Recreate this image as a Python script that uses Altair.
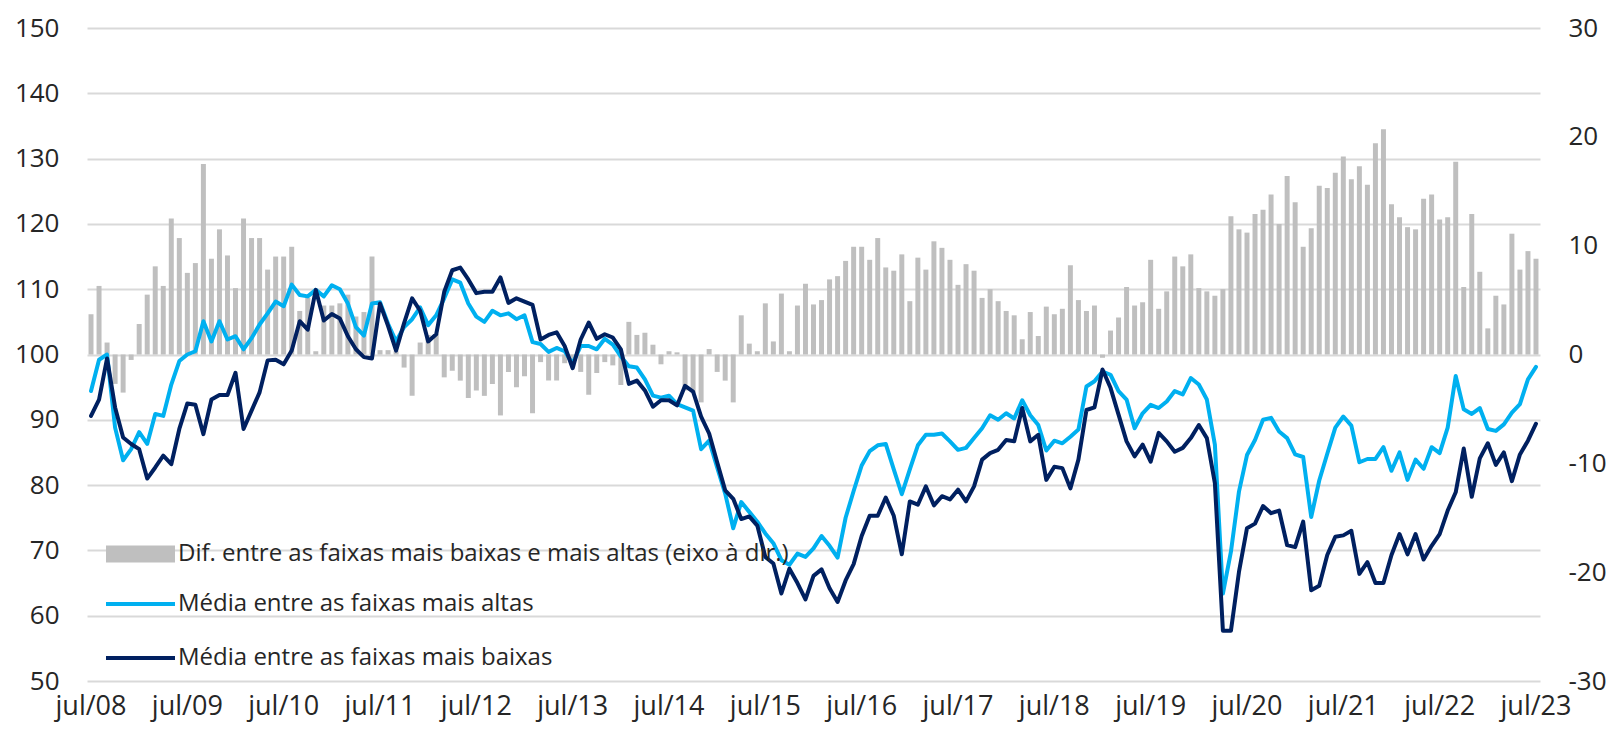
import altair as alt
import pandas as pd

# ---------------- dados ----------------
meses_pt = ["jan", "fev", "mar", "abr", "mai", "jun", "jul", "ago", "set", "out", "nov", "dez"]
categorias = []
ano, m = 2008, 6
for _ in range(181):
    categorias.append(f"{meses_pt[m]}/{ano % 100:02d}")
    m += 1
    if m == 12:
        m = 0
        ano += 1

rotulos_x = ["jul/08", "jul/09", "jul/10", "jul/11", "jul/12", "jul/13", "jul/14", "jul/15",
             "jul/16", "jul/17", "jul/18", "jul/19", "jul/20", "jul/21", "jul/22", "jul/23"]

ticks_esq = [50, 60, 70, 80, 90, 100, 110, 120, 130, 140, 150]
ticks_dir = [-30, -20, -10, 0, 10, 20, 30]

dif = [
    3.7, 6.3, 1.1, -2.7, -3.5, -0.5, 2.8, 5.5, 8.1, 6.3,
    12.5, 10.7, 7.5, 8.4, 17.5, 8.8, 11.5, 9.1, 6.1, 12.5,
    10.7, 10.7, 7.8, 9.0, 9.0, 9.9, 4.0, 5.2, 0.3, 4.5,
    4.5, 4.7, 5.5, 3.5, 3.9, 9.0, 0.4, 0.4, 0.3, -1.2,
    -3.8, 1.1, 1.8, 1.9, -2.1, -1.5, -2.4, -4.0, -3.3, -3.8,
    -2.7, -5.6, -1.6, -3.0, -2.0, -5.4, -0.7, -2.4, -2.4, -0.8,
    -1.2, -1.6, -3.7, -1.7, -0.7, -1.0, -2.8, 3.0, 1.8, 2.0,
    0.9, -0.9, 0.3, 0.2, -3.3, -3.5, -4.4, 0.5, -1.6, -2.4,
    -4.4, 3.6, 1.0, 0.3, 4.7, 1.2, 5.6, 0.3, 4.5, 6.5,
    4.6, 5.0, 6.9, 7.2, 8.6, 9.9, 9.9, 8.7, 10.7, 8.0,
    7.7, 9.2, 4.9, 8.9, 7.8, 10.4, 9.8, 8.7, 6.4, 8.3,
    7.7, 5.2, 6.0, 4.9, 4.0, 3.6, 1.4, 3.9, 1.7, 4.4,
    3.7, 4.2, 8.2, 5.0, 4.0, 4.5, -0.3, 2.2, 3.4, 6.2,
    4.5, 4.8, 8.7, 4.2, 5.8, 9.0, 8.1, 9.2, 6.1, 5.8,
    5.4, 6.0, 12.7, 11.5, 11.2, 12.9, 13.3, 14.7, 12.0, 16.4,
    14.0, 9.9, 11.6, 15.5, 15.3, 16.7, 18.2, 16.1, 17.3, 15.6,
    19.4, 20.7, 13.8, 12.6, 11.7, 11.5, 14.3, 14.7, 12.4, 12.6,
    17.7, 6.2, 12.9, 7.6, 2.4, 5.4, 4.6, 11.1, 7.8, 9.5,
    8.8,
]

altas = [
    94.4, 99.2, 100.0, 88.8, 83.8, 85.5, 88.1, 86.3, 90.9, 90.6,
    95.4, 99.0, 100.0, 100.5, 105.1, 102.0, 105.1, 102.3, 102.8, 100.8,
    102.5, 104.6, 106.3, 108.1, 107.4, 110.7, 109.1, 108.9, 109.9, 108.9,
    110.6, 110.0, 107.8, 104.2, 102.9, 107.8, 108.0, 104.7, 102.0, 104.2,
    105.4, 107.2, 104.5, 106.0, 108.6, 111.5, 111.0, 107.8, 105.8, 105.0,
    106.7, 106.0, 106.3, 105.4, 106.0, 101.9, 101.6, 100.4, 101.0, 100.5,
    98.6, 101.3, 101.3, 100.8, 102.4, 101.5, 99.7, 98.2, 98.0, 96.2,
    93.7, 93.4, 93.7, 92.4, 91.9, 91.4, 85.5, 86.8, 82.7, 78.7,
    73.4, 77.4, 75.9, 74.4, 72.6, 71.1, 68.5, 67.8, 69.5, 69.0,
    70.3, 72.2, 70.7, 68.9, 75.0, 79.1, 83.0, 85.2, 86.1, 86.3,
    82.4, 78.6, 82.4, 86.1, 87.7, 87.7, 87.9, 86.7, 85.4, 85.7,
    87.2, 88.7, 90.7, 90.0, 91.0, 90.2, 93.0, 90.7, 89.2, 85.3,
    86.8, 86.4, 87.4, 88.5, 95.1, 95.9, 97.4, 96.9, 94.4, 93.1,
    88.7, 91.0, 92.3, 91.8, 92.8, 94.4, 93.9, 96.4, 95.4, 93.1,
    86.2, 63.4, 69.8, 79.0, 84.6, 86.9, 90.0, 90.3, 88.2, 87.2,
    84.7, 84.3, 75.1, 80.7, 84.8, 88.8, 90.5, 89.1, 83.5, 84.0,
    84.0, 85.8, 82.2, 85.0, 80.8, 83.9, 82.5, 85.8, 84.9, 88.8,
    96.7, 91.6, 90.9, 91.8, 88.6, 88.3, 89.3, 91.1, 92.4, 96.2,
    98.1,
]

baixas = [
    90.6, 93.1, 99.4, 91.9, 87.3, 86.3, 85.5, 81.0, 82.7, 84.5,
    83.2, 88.6, 92.5, 92.3, 87.8, 93.1, 93.8, 93.8, 97.2, 88.6,
    91.4, 94.2, 99.1, 99.2, 98.5, 100.6, 105.1, 103.8, 109.9, 105.2,
    106.2, 105.5, 102.8, 100.8, 99.6, 99.4, 107.8, 104.4, 100.6, 104.8,
    108.6, 106.7, 102.0, 103.1, 109.6, 112.9, 113.3, 111.5, 109.4, 109.6,
    109.6, 111.8, 107.9, 108.6, 108.1, 107.6, 102.3, 103.0, 103.4, 101.3,
    97.9, 102.3, 104.9, 102.4, 103.1, 102.6, 100.8, 95.5, 96.0, 94.5,
    92.0, 93.0, 93.0, 92.2, 95.2, 94.3, 90.5, 87.9, 83.5, 79.2,
    77.9, 74.8, 75.2, 73.8, 69.0, 68.0, 63.4, 67.2, 65.0, 62.5,
    66.1, 67.1, 64.2, 62.1, 65.4, 67.9, 72.2, 75.3, 75.3, 78.1,
    75.3, 69.4, 77.5, 77.0, 79.8, 76.9, 78.3, 77.8, 79.3, 77.5,
    79.8, 83.9, 84.9, 85.4, 86.9, 86.7, 91.8, 86.7, 87.7, 80.8,
    82.8, 82.6, 79.5, 83.9, 91.5, 91.9, 97.7, 94.9, 90.8, 86.7,
    84.4, 86.2, 83.6, 88.0, 86.7, 85.1, 85.7, 87.2, 89.2, 87.2,
    80.3, 57.7, 57.7, 66.7, 73.4, 74.1, 76.8, 75.7, 76.1, 70.8,
    70.5, 74.4, 63.9, 64.6, 69.3, 72.1, 72.3, 73.0, 66.4, 68.2,
    65.0, 65.0, 69.3, 72.5, 69.4, 72.5, 68.6, 70.7, 72.5, 76.1,
    78.9, 85.6, 78.2, 84.1, 86.4, 83.1, 85.0, 80.6, 84.7, 86.8,
    89.4,
]

assert len(dif) == len(altas) == len(baixas) == len(categorias) == 181

S_DIF = "Dif. entre as faixas mais baixas e mais altas (eixo à dir.)"
S_ALT = "Média entre as faixas mais altas"
S_BAI = "Média entre as faixas mais baixas"

CINZA = "#BFBFBF"
AZUL = "#00B0F0"
MARINHO = "#002060"
TEXTO = "#262626"
GRADE = "#D9D9D9"
FONTE = "Open Sans"

df_dif = pd.DataFrame({"mes": categorias, "dif": dif, "serie": S_DIF})
df_lin = pd.concat([
    pd.DataFrame({"mes": categorias, "valor": altas, "serie": S_ALT}),
    pd.DataFrame({"mes": categorias, "valor": baixas, "serie": S_BAI}),
])

x_enc = alt.X(
    "mes:N",
    sort=categorias,
    scale=alt.Scale(paddingInner=0.38, paddingOuter=0.19),
    axis=alt.Axis(
        values=rotulos_x, labelAngle=0, domain=False, ticks=False, grid=False,
        labelFont=FONTE, labelFontSize=27, labelColor=TEXTO, labelPadding=12,
        labelOverlap=False, labelFlush=False, title=None,
    ),
)

barras = alt.Chart(df_dif).mark_bar().encode(
    x=x_enc,
    y=alt.Y(
        "dif:Q",
        scale=alt.Scale(domain=[-30, 30], nice=False),
        axis=alt.Axis(
            orient="right", values=ticks_dir, grid=False, domain=False, ticks=False, tickSize=0,
            labelFont=FONTE, labelFontSize=26, labelColor=TEXTO, labelPadding=28,
            labelExpr="datum.value + ''", title=None,
        ),
    ),
    fill=alt.Fill(
        "serie:N",
        scale=alt.Scale(domain=[S_DIF], range=[CINZA]),
        legend=alt.Legend(
            title=None, orient="none", legendX=17, legendY=514, padding=0,
            symbolType="M-1,-0.85H5.9V0.85H-1Z", symbolSize=400, symbolStrokeWidth=0,
            labelFont=FONTE, labelFontSize=24, labelColor=TEXTO, labelLimit=2000,
            labelOffset=50,
        ),
    ),
)

linhas = alt.Chart(df_lin).mark_line(strokeWidth=4, strokeJoin="round", strokeCap="round").encode(
    x=x_enc,
    y=alt.Y(
        "valor:Q",
        scale=alt.Scale(domain=[50, 150], nice=False, zero=False),
        axis=alt.Axis(
            orient="left", values=ticks_esq, grid=True, gridColor=GRADE, gridWidth=2,
            domain=False, ticks=False, tickSize=0,
            labelFont=FONTE, labelFontSize=26, labelColor=TEXTO, labelPadding=28, title=None,
        ),
    ),
    stroke=alt.Stroke(
        "serie:N",
        scale=alt.Scale(domain=[S_ALT, S_BAI], range=[AZUL, MARINHO]),
        legend=alt.Legend(
            title=None, orient="none", legendX=17, legendY=564, padding=0, rowPadding=30,
            symbolType="M-1,0H5.9", symbolSize=400, symbolStrokeWidth=4,
            symbolFillColor="transparent",
            labelFont=FONTE, labelFontSize=24, labelColor=TEXTO, labelLimit=2000,
            labelOffset=50,
        ),
    ),
)

chart = alt.layer(barras, linhas).resolve_scale(
    y="independent", fill="independent", stroke="independent"
).properties(
    width=1453,
    height=653,
    autosize=alt.AutoSizeParams(type="none"),
    padding={"left": 79, "top": 20, "right": 68, "bottom": 42},
    background="white",
).configure_view(stroke=None)

chart.save("out.html", embed_options={"renderer": "svg", "actions": False})
